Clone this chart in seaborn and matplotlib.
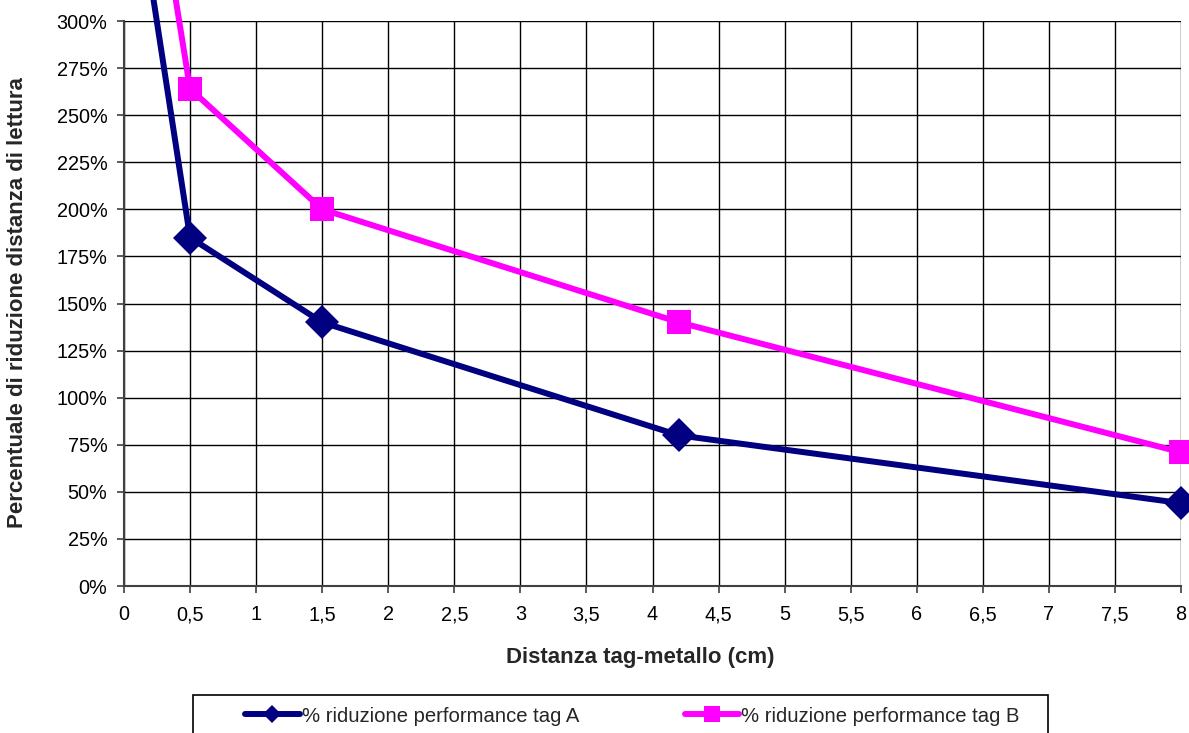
import matplotlib
matplotlib.use("Agg")
import matplotlib.pyplot as plt
import seaborn as sns
import pandas as pd
from matplotlib.lines import Line2D
from matplotlib.patches import Rectangle
from matplotlib.ticker import FuncFormatter, MultipleLocator

# Data (distance in cm, reduction in %)
distance_a = [0.2, 0.5, 1.5, 4.2, 8.0]
reduction_a = [322, 185, 140, 80, 44]
distance_b = [0.2, 0.5, 1.5, 4.2, 8.0]
reduction_b = [395, 264, 200, 140, 71]
label_a = "% riduzione performance tag A"
label_b = "% riduzione performance tag B"
x_label = "Distanza tag-metallo (cm)"
y_label = "Percentuale di riduzione distanza di lettura"

sns.set_theme(style="white")
plt.rcParams['font.family'] = ['Liberation Sans', 'DejaVu Sans']

fig = plt.figure(figsize=(11.89, 7.33), dpi=100)
ax = fig.add_axes([124/1189, 1 - 586/733, (1181-124)/1189, (586-21)/733])

df_a = pd.DataFrame({"x": distance_a, "y": reduction_a})
df_b = pd.DataFrame({"x": distance_b, "y": reduction_b})

navy = "#000080"
magenta = "#FF00FF"

sns.lineplot(data=df_a, x="x", y="y", ax=ax, color=navy, lw=4.3, marker="D",
             markersize=17, markeredgewidth=0, zorder=5)
sns.lineplot(data=df_b, x="x", y="y", ax=ax, color=magenta, lw=4.3, marker="s",
             markersize=17, markeredgewidth=0, zorder=4)
for ln in ax.lines:
    ln.set_clip_on(False)

ax.set_xlim(0, 8)
ax.set_ylim(0, 300)
ax.xaxis.set_major_locator(MultipleLocator(0.5))
ax.yaxis.set_major_locator(MultipleLocator(25))
ax.xaxis.set_major_formatter(FuncFormatter(lambda v, p: ("%g" % v).replace(".", ",")))
ax.yaxis.set_major_formatter(FuncFormatter(lambda v, p: "%d%%" % round(v)))
ax.grid(True, color="black", lw=1.0)
ax.set_axisbelow(True)
ax.set_xlabel("")
ax.set_ylabel("")
for s in ["top", "right"]:
    ax.spines[s].set_visible(False)
for s in ["left", "bottom"]:
    ax.spines[s].set_color("#404040")
    ax.spines[s].set_linewidth(1.5)
ax.tick_params(axis="both", which="major", length=5, width=1.2, color="#404040",
               labelsize=14.3, labelcolor="black", direction="out",
               left=True, bottom=True)
ax.tick_params(axis="y", pad=7)
ax.tick_params(axis="x", pad=9)

fig.text(640/1189, 1 - 657/733, x_label, ha="center", va="center",
         fontsize=16, fontweight="bold")
fig.text(18/1189, 1 - 303/733, y_label, ha="center", va="center",
         rotation=90, fontsize=16, fontweight="bold")

# Legend box
fig.patches.append(Rectangle((193/1189, -0.05), (1048-193)/1189, 0.05 + (733-695)/733,
                             transform=fig.transFigure, fill=False,
                             edgecolor="black", lw=1.2))
handles = [
    Line2D([], [], color=navy, lw=4.3, marker="D", markersize=9, markeredgewidth=0),
    Line2D([], [], color=magenta, lw=4.3, marker="s", markersize=11, markeredgewidth=0),
]
fig.legend(handles, [label_a, label_b], loc="center left",
           bbox_to_anchor=(245/1189, 1 - 716/733), ncol=2, frameon=False,
           fontsize=14.6, handlelength=2.7, handletextpad=0.1, columnspacing=5.2,
           borderaxespad=0, borderpad=0)

fig.savefig("out.png", dpi=100)
